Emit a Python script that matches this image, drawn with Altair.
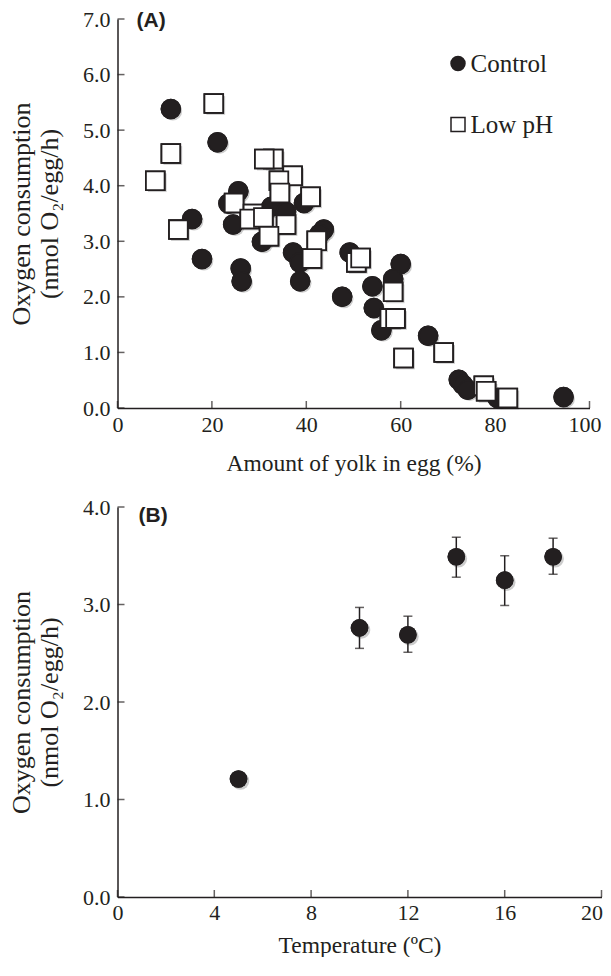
import altair as alt
import pandas as pd

INK = "#231f20"
SERIF = "Liberation Serif"
SANS = "Liberation Sans"

# ---------- Panel A data ----------
ctrl_x = [11.3, 21.2, 25.6, 23.5, 32.6, 35.7, 39.5, 15.8, 24.5, 30.6, 43.7, 42.8, 37.2, 38.6,
          38.7, 17.9, 26.1, 26.3, 47.6, 49.2, 60.0, 58.4, 54.0, 54.3, 55.9, 65.8, 72.3, 73.2,
          74.2, 80.5, 94.5]
ctrl_y = [5.38, 4.78, 3.90, 3.68, 3.62, 3.53, 3.69, 3.40, 3.30, 2.99, 3.21, 3.13, 2.80, 2.62,
          2.28, 2.68, 2.51, 2.28, 2.00, 2.80, 2.59, 2.32, 2.19, 1.80, 1.40, 1.30, 0.51, 0.42,
          0.33, 0.18, 0.20]
lph_x = [20.4, 11.3, 8.0, 33.0, 31.1, 37.1, 34.2, 34.4, 40.9, 24.7, 28.7, 28.0, 30.9, 35.7,
         12.9, 32.1, 42.2, 41.2, 50.6, 51.5, 58.4, 57.7, 58.9, 60.6, 69.1, 77.6, 78.1, 82.7]
lph_y = [5.48, 4.58, 4.09, 4.48, 4.48, 4.18, 4.09, 3.87, 3.80, 3.69, 3.49, 3.40, 3.43, 3.30,
         3.21, 3.09, 3.01, 2.69, 2.62, 2.70, 2.09, 1.61, 1.61, 0.90, 1.00, 0.40, 0.30, 0.18]
groups = ["Control", "Low pH"]
xticks_A = [0, 20, 40, 60, 80, 100]
yticks_A = [0, 1, 2, 3, 4, 5, 6, 7]

# ---------- Panel B data ----------
temp = [5, 10, 12, 14, 16, 18]
o2_mean = [1.21, 2.76, 2.69, 3.49, 3.25, 3.49]
o2_lo = [1.21, 2.55, 2.51, 3.28, 2.99, 3.31]
o2_hi = [1.21, 2.97, 2.88, 3.69, 3.50, 3.68]
xticks_B = [0, 4, 8, 12, 16, 20]
yticks_B = [0, 1, 2, 3, 4]

y_title = ["Oxygen consumption", "(nmol O\u2082/egg/h)"]

WA, HA = 472, 389
WB, HB = 484, 390
TICK = 7
SZ_A = 350
SZ_B = 310

dfA = pd.DataFrame({
    "x": ctrl_x + lph_x,
    "y": ctrl_y + lph_y,
    "group": [groups[0]] * len(ctrl_x) + [groups[1]] * len(lph_x),
})
dfC = pd.DataFrame({"x": ctrl_x, "y": ctrl_y})
dfL = pd.DataFrame({"x": lph_x, "y": lph_y})
dfB = pd.DataFrame({"temp": temp, "mean": o2_mean, "lo": o2_lo, "hi": o2_hi})


def x_axis(values, title, last, shift, label_pad, title_pad):
    return alt.Axis(values=values, title=title, format="d", tickSize=0, labelPadding=label_pad,
                    titlePadding=title_pad, labelFlush=False, grid=False, titleFontSize=23.5,
                    labelOffset={"condition": {"test": f"datum.value == {last}", "value": shift},
                                 "value": 0})


def y_axis(values):
    return alt.Axis(values=values, title=y_title, format=".1f", tickSize=0, labelPadding=7.5,
                    titlePadding=20, titleLineHeight=28, grid=False, titleFontSize=26)


xA = alt.X("x:Q", scale=alt.Scale(domain=[0, 100], nice=False, zero=False),
           axis=x_axis(xticks_A, "Amount of yolk in egg (%)", 100, -5, 6, 16))
yA = alt.Y("y:Q", scale=alt.Scale(domain=[0, 7], nice=False, zero=False),
           axis=y_axis(yticks_A))

shadowC = alt.Chart(dfC).mark_point(shape="circle", filled=True, color="#000000", opacity=0.2,
                                    xOffset=2, yOffset=2, size=SZ_A).encode(x="x:Q", y="y:Q")
shadowL = alt.Chart(dfL).mark_point(shape="square", filled=True, color="#000000", opacity=0.2,
                                    xOffset=2, yOffset=2, size=SZ_A).encode(x="x:Q", y="y:Q")
leg = alt.Legend(
    title=None, orient="none", legendX=328, legendY=32, padding=0,
    labelFont=SERIF, labelFontSize=25, labelColor=INK, symbolSize=196,
    symbolStrokeWidth=1.5, rowPadding=35, labelOffset=0,
)
mainA = alt.Chart(dfA).mark_point(filled=True, strokeWidth=1.8, opacity=1,
                                  size=SZ_A).encode(
    x=xA, y=yA,
    shape=alt.Shape("group:N", scale=alt.Scale(domain=groups, range=["circle", "square"]), legend=leg),
    fill=alt.Fill("group:N", scale=alt.Scale(domain=groups, range=[INK, "#ffffff"]), legend=leg),
    stroke=alt.Stroke("group:N", scale=alt.Scale(domain=groups, range=[INK, INK]), legend=leg),
)
tx_A = alt.Chart(pd.DataFrame({"x": xticks_A})).mark_tick(
    color=INK, thickness=1.5, size=TICK, orient="vertical").encode(
    x="x:Q", y=alt.value(HA - TICK / 2))
ty_A = alt.Chart(pd.DataFrame({"y": yticks_A})).mark_tick(
    color=INK, thickness=1.5, size=TICK, orient="horizontal").encode(
    y="y:Q", x=alt.value(TICK / 2))
labA = alt.Chart(pd.DataFrame({"t": ["(A)"]})).mark_text(
    font=SANS, fontWeight="bold", fontSize=21, color=INK, align="left", baseline="middle"
).encode(text="t:N", x=alt.value(19), y=alt.value(2))

chartA = alt.layer(mainA, shadowC, shadowL, tx_A, ty_A, mainA, labA).properties(width=WA, height=HA)

# ---------- Panel B ----------
xB = alt.X("temp:Q", scale=alt.Scale(domain=[0, 20], nice=False, zero=False),
           axis=x_axis(xticks_B, "Temperature (\u00baC)", 20, -10, 5, 10))
yB = alt.Y("mean:Q", scale=alt.Scale(domain=[0, 4], nice=False, zero=False),
           axis=y_axis(yticks_B))
baseB = alt.Chart(dfB)
err = baseB.mark_rule(color=INK, strokeWidth=1.5).encode(x="temp:Q", y="lo:Q", y2="hi:Q")
cap_lo = baseB.mark_tick(color=INK, thickness=1.5, size=9, orient="horizontal").encode(x="temp:Q", y="lo:Q")
cap_hi = baseB.mark_tick(color=INK, thickness=1.5, size=9, orient="horizontal").encode(x="temp:Q", y="hi:Q")
shadowB = baseB.mark_circle(color="#000000", opacity=0.2, size=SZ_B, xOffset=2, yOffset=2).encode(
    x="temp:Q", y="mean:Q")
ptsB = baseB.mark_circle(color=INK, opacity=1, size=SZ_B).encode(x=xB, y=yB)
tx_B = alt.Chart(pd.DataFrame({"temp": xticks_B})).mark_tick(
    color=INK, thickness=1.5, size=TICK, orient="vertical").encode(
    x="temp:Q", y=alt.value(HB - TICK / 2))
ty_B = alt.Chart(pd.DataFrame({"mean": yticks_B})).mark_tick(
    color=INK, thickness=1.5, size=TICK, orient="horizontal").encode(
    y="mean:Q", x=alt.value(TICK / 2))
labB = alt.Chart(pd.DataFrame({"t": ["(B)"]})).mark_text(
    font=SANS, fontWeight="bold", fontSize=21, color=INK, align="left", baseline="middle"
).encode(text="t:N", x=alt.value(21), y=alt.value(9))

chartB = alt.layer(ptsB, err, cap_lo, cap_hi, shadowB, ptsB, tx_B, ty_B, labB).properties(width=WB, height=HB)

chart = alt.vconcat(chartA, chartB, spacing=21).properties(
    padding={"left": 0.5, "top": 0, "right": 0, "bottom": 0},
    background="white",
).configure_view(stroke=None).configure_axis(
    grid=False, ticks=False, domainColor=INK, domainWidth=1.5,
    labelFont=SERIF, labelFontSize=22, labelColor=INK,
    titleFont=SERIF, titleFontSize=24, titleFontWeight="normal", titleColor=INK,
)

chart.save("out.html", embed_options={"renderer": "svg", "actions": False})
